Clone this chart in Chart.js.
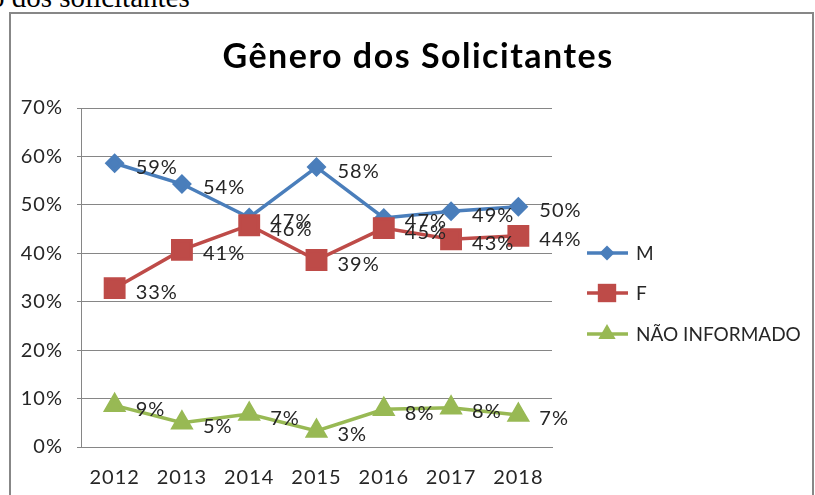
<!DOCTYPE html>
<html>
<head>
<meta charset="utf-8">
<script src="https://cdn.jsdelivr.net/npm/chart.js@4.4.1/dist/chart.umd.min.js"></script>
<style>
body { margin: 0; width: 815px; height: 495px; overflow: hidden; background: #fff; position: relative; }
#cap { position: absolute; left: -10px; top: -17px; font: 29px/29px "Liberation Serif"; color: #000; white-space: nowrap; }
#box { position: absolute; left: 9px; top: 12px; width: 801px; height: 490px; border: 2px solid #878787; }
#myChart { position: absolute; left: 0; top: 0; }
</style>
</head>
<body>
<div id="cap">o dos solicitantes</div>
<div id="box"></div>
<canvas id="myChart" width="815" height="495"></canvas>
<script>
// data (percent)
var years = ["2012", "2013", "2014", "2015", "2016", "2017", "2018"];
var masc = [58.6, 54.3, 47.4, 57.8, 47.3, 48.7, 49.6];
var fem = [32.8, 40.7, 45.8, 38.6, 45.2, 42.9, 43.6];
var naoInf = [8.6, 5.0, 6.8, 3.3, 7.8, 8.1, 6.6];
var seriesNames = ["M", "F", "NÃO INFORMADO"];
var chartTitle = "Gênero dos Solicitantes";

var FONT = "Lato";

//labels, legend and title drawn on the canvas
var extras = {
    id: 'extras',
    beforeDraw(chart) {
        chart.ctx.letterSpacing = "1px";
    },
    afterDatasetsDraw(chart) {
        const ctx = chart.ctx;
        ctx.save();
        //data labels
        ctx.letterSpacing = "1px";
        ctx.font = "20px " + FONT;
        ctx.fillStyle = "#262626";
        ctx.textBaseline = "middle";
        ctx.textAlign = "left";
        chart.data.datasets.forEach((ds, i) => {
            chart.getDatasetMeta(i).data.forEach((pt, j) => {
                ctx.fillText(Math.round(ds.data[j]) + "%", pt.x + 21, pt.y + 4);
            });
        });

        //legend
        var ly = [253, 293, 334];
        ctx.letterSpacing = "0px";
        chart.data.datasets.forEach((ds, i) => {
            ctx.strokeStyle = ds.borderColor;
            ctx.lineWidth = 3.5;
            ctx.beginPath();
            ctx.moveTo(587, ly[i]);
            ctx.lineTo(628, ly[i]);
            ctx.stroke();
            ctx.fillStyle = ds.backgroundColor;
            Chart.helpers.drawPoint(ctx, {
                pointStyle: ds.pointStyle,
                radius: ds.pointRadius,
                rotation: 0,
                borderWidth: 0
            }, 607, ly[i]);
            ctx.fillStyle = "#262626";
            ctx.font = "19px " + FONT;
            ctx.fillText(ds.label, 636, ly[i] + 1);
        });

        //title
        ctx.letterSpacing = "1.5px";
        ctx.font = "bold 34px " + FONT;
        ctx.fillStyle = "#000";
        ctx.textAlign = "center";
        ctx.fillText(chartTitle, 418, 57);
        ctx.restore();
    },
    afterDraw(chart) {
        chart.ctx.letterSpacing = "0px";
    }
};

var data = {
    labels: years,
    datasets: [{
        label: seriesNames[0],
        data: masc,
        borderColor: "#4a7ebb",
        backgroundColor: "#4a7ebb",
        borderWidth: 3.5,
        pointStyle: "rectRot",
        pointRadius: 7.5,
        order: 2
    }, {
        label: seriesNames[1],
        data: fem,
        borderColor: "#be4b48",
        backgroundColor: "#be4b48",
        borderWidth: 3.5,
        pointStyle: "rect",
        pointRadius: 13,
        order: 1
    }, {
        label: seriesNames[2],
        data: naoInf,
        borderColor: "#98b954",
        backgroundColor: "#98b954",
        borderWidth: 3.5,
        pointStyle: "triangle",
        pointRadius: 10,
        order: 0
    }]
};

var config = {
    type: "line",
    data: data,
    options: {
        responsive: false,
        animation: false,
        layout: { padding: { top: 108, right: 263, left: 0, bottom: 0 } },
        plugins: {
            legend: { display: false },
            tooltip: { enabled: false }
        },
        elements: { line: { tension: 0 }, point: { borderWidth: 0 } },
        scales: {
            x: {
                offset: true,
                grid: { display: false },
                border: { color: "#868686", width: 1 },
                ticks: { color: "#262626", font: { family: FONT, size: 20 }, padding: 11 },
                afterFit: function (scale) { scale.height = 48; }
            },
            y: {
                min: 0,
                max: 70,
                grid: { color: "#868686", tickLength: 4 },
                border: { color: "#868686", width: 1 },
                ticks: {
                    stepSize: 10,
                    color: "#262626",
                    font: { family: FONT, size: 20 },
                    padding: 14,
                    callback: function (v) { return v + "%"; }
                },
                afterFit: function (scale) { scale.width = 81; }
            }
        }
    },
    plugins: [extras]
};

var myChart = new Chart(document.getElementById("myChart"), config);
</script>
</body>
</html>
